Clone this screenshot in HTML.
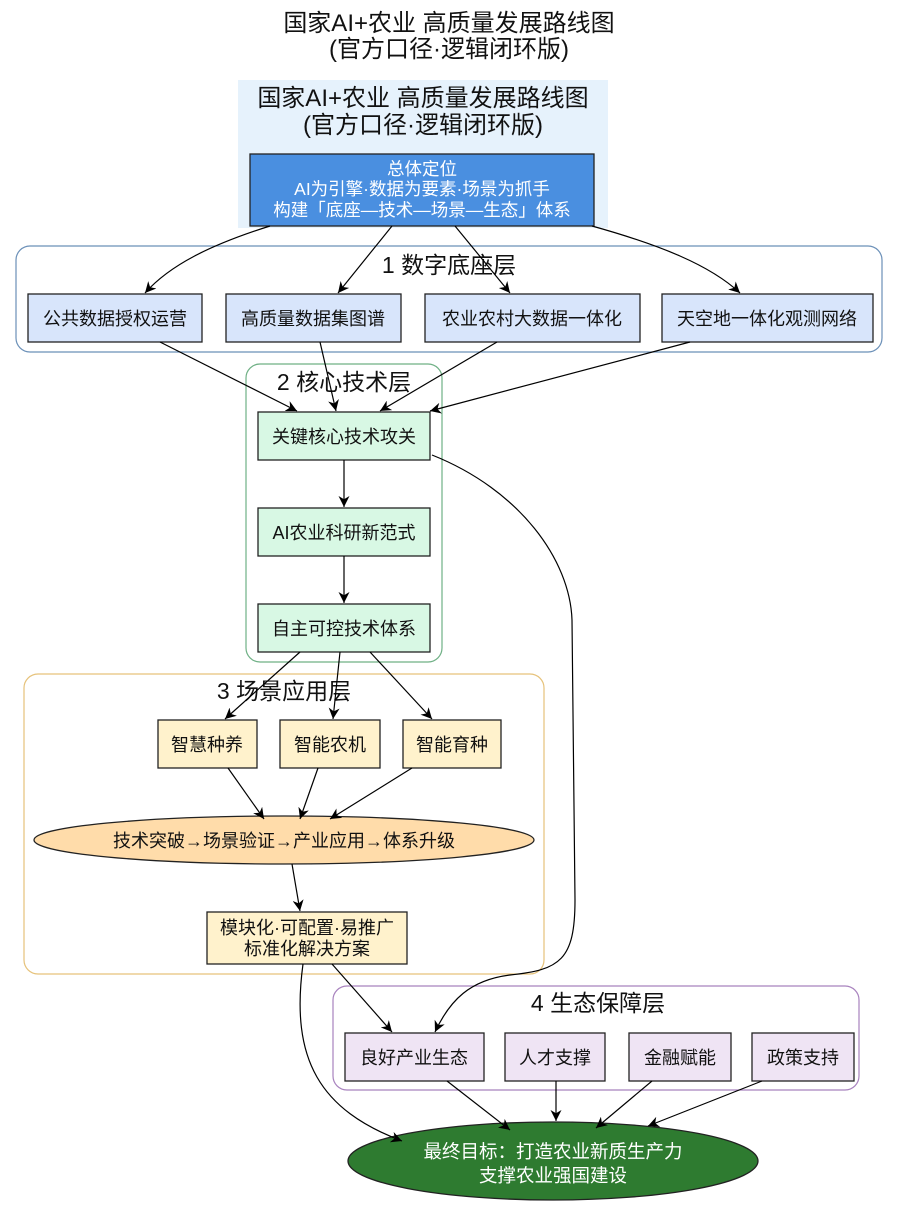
<!DOCTYPE html>
<html><head><meta charset="utf-8"><style>
body{margin:0;background:#fff}
svg text{font-family:"Liberation Sans","Noto Sans CJK SC",sans-serif}
</style></head><body>
<svg width="899" height="1206" viewBox="0 0 899 1206" xmlns="http://www.w3.org/2000/svg">
<defs><marker id="a" viewBox="0 0 10 10" refX="10" refY="5" markerWidth="11" markerHeight="11" orient="auto" markerUnits="userSpaceOnUse"><path d="M0,0 L10,5 L0,10 L3,5 z" fill="#000"/></marker></defs>
<rect width="899" height="1206" fill="#fff"/>
<g font-size="24" text-anchor="middle" fill="#111">
<text x="449" y="31">国家AI+农业 高质量发展路线图</text>
<text x="449" y="57">(官方口径·逻辑闭环版)</text>
</g>
<rect x="238" y="80" width="370" height="148" fill="#e6f2fc"/>
<g font-size="24" text-anchor="middle" fill="#111">
<text x="423" y="106">国家AI+农业 高质量发展路线图</text>
<text x="423" y="133">(官方口径·逻辑闭环版)</text>
</g>
<rect x="250" y="154" width="344" height="72" fill="#4a8fe0" stroke="#222" stroke-width="1.3"/>
<g font-size="17.5" text-anchor="middle" fill="#fff">
<text x="422" y="175">总体定位</text>
<text x="422" y="195">AI为引擎·数据为要素·场景为抓手</text>
<text x="422" y="216">构建「底座—技术—场景—生态」体系</text>
</g>
<rect x="16" y="246" width="866" height="106" rx="14" fill="none" stroke="#6b90b8" stroke-width="1.2"/>
<rect x="246" y="364" width="196" height="298" rx="14" fill="none" stroke="#6fb085" stroke-width="1.2"/>
<rect x="24" y="674" width="520" height="300" rx="14" fill="none" stroke="#e6c27a" stroke-width="1.2"/>
<rect x="333" y="986" width="526" height="104" rx="14" fill="none" stroke="#a882be" stroke-width="1.2"/>
<g font-size="23" text-anchor="middle" fill="#111">
<text x="449" y="273">1 数字底座层</text>
<text x="344" y="390">2 核心技术层</text>
<text x="284" y="699">3 场景应用层</text>
<text x="598" y="1011">4 生态保障层</text>
</g>
<g stroke="#222" stroke-width="1.3">
<rect x="28" y="294" width="174" height="48" fill="#d8e5fb"/>
<rect x="226" y="294" width="175" height="48" fill="#d8e5fb"/>
<rect x="425" y="294" width="215" height="48" fill="#d8e5fb"/>
<rect x="662" y="294" width="211" height="48" fill="#d8e5fb"/>
<rect x="258" y="412" width="172" height="48" fill="#d8f8e4"/>
<rect x="258" y="508" width="172" height="48" fill="#d8f8e4"/>
<rect x="258" y="604" width="172" height="48" fill="#d8f8e4"/>
<rect x="158" y="720" width="99" height="48" fill="#fff2cc"/>
<rect x="280" y="720" width="100" height="48" fill="#fff2cc"/>
<rect x="403" y="720" width="98" height="48" fill="#fff2cc"/>
<ellipse cx="284" cy="840" rx="250" ry="24" fill="#ffdcaa"/>
<rect x="207" y="912" width="200" height="52" fill="#fff2cc"/>
<rect x="345" y="1033" width="139" height="48" fill="#efe4f4"/>
<rect x="505" y="1033" width="100" height="48" fill="#efe4f4"/>
<rect x="629" y="1033" width="102" height="48" fill="#efe4f4"/>
<rect x="752" y="1033" width="102" height="48" fill="#efe4f4"/>
<ellipse cx="553" cy="1161" rx="205" ry="39" fill="#2e7b30"/>
</g>
<g font-size="18" text-anchor="middle" fill="#111">
<text x="115" y="325">公共数据授权运营</text>
<text x="313" y="325">高质量数据集图谱</text>
<text x="532" y="325">农业农村大数据一体化</text>
<text x="767" y="325">天空地一体化观测网络</text>
<text x="344" y="443">关键核心技术攻关</text>
<text x="344" y="539">AI农业科研新范式</text>
<text x="344" y="635">自主可控技术体系</text>
<text x="207" y="751">智慧种养</text>
<text x="330" y="751">智能农机</text>
<text x="452" y="751">智能育种</text>
<text x="284" y="847">技术突破→场景验证→产业应用→体系升级</text>
<text x="307" y="934">模块化·可配置·易推广</text>
<text x="307" y="955">标准化解决方案</text>
<text x="414" y="1064">良好产业生态</text>
<text x="555" y="1064">人才支撑</text>
<text x="680" y="1064">金融赋能</text>
<text x="803" y="1064">政策支持</text>
</g>
<g font-size="18.5" text-anchor="middle" fill="#fff">
<text x="553" y="1158">最终目标：打造农业新质生产力</text>
<text x="553" y="1182">支撑农业强国建设</text>
</g>
<g fill="none" stroke="#000" stroke-width="1.2" marker-end="url(#a)">
<path d="M270,226 C210,245 170,265 145,293"/>
<path d="M392,226 L338,293"/>
<path d="M455,226 L510,293"/>
<path d="M592,226 C660,245 710,265 740,293"/>
<path d="M160,342 L297,411"/>
<path d="M320,342 L336,411"/>
<path d="M497,342 L380,411"/>
<path d="M690,342 L430,411"/>
<path d="M344,460 L344,507"/>
<path d="M344,556 L344,603"/>
<path d="M300,652 L225,719"/>
<path d="M340,652 L333,719"/>
<path d="M370,652 L432,719"/>
<path d="M228,768 L264,819"/>
<path d="M318,768 L300,819"/>
<path d="M412,768 L330,819"/>
<path d="M292,864 L300,911"/>
<path d="M332,964 L392,1032"/>
<path d="M432,455 C520,490 570,560 572,620 L575,900 C575,960 560,970 510,975 C470,980 450,1000 435,1032"/>
<path d="M303,964 C290,1060 320,1110 402,1141"/>
<path d="M447,1081 L510,1130"/>
<path d="M556,1081 L556,1121"/>
<path d="M652,1081 L596,1128"/>
<path d="M762,1081 L648,1126"/>
</g>
</svg>
</body></html>
